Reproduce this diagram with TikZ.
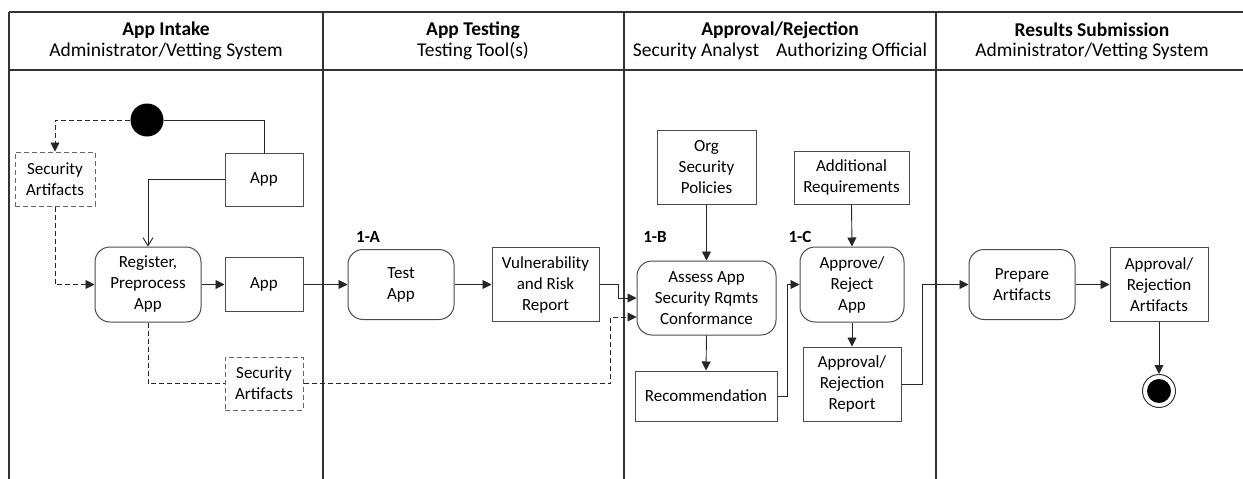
\documentclass[tikz,border=0pt]{standalone}
\usepackage{fontspec}
\setmainfont{Carlito}
\usetikzlibrary{arrows.meta}
\begin{document}
\begin{tikzpicture}[x=1pt,y=-1pt,
  every node/.style={font=\fontsize{17}{21}\selectfont, inner sep=0pt, align=center},
  lane/.style={line width=1.2pt, draw=black!80},
  obj/.style={draw=black!70, line width=1pt, rectangle},
  dobj/.style={draw=black!60, line width=1pt, dashed, dash pattern=on 5pt off 3pt, rectangle},
  act/.style={draw=black!70, line width=1pt, rectangle, rounded corners=15pt},
  flow/.style={line width=0.9pt, draw=black!85, -{Triangle[length=9pt,width=9pt]}},
  plain/.style={line width=0.9pt, draw=black!85},
  dflow/.style={line width=0.9pt, draw=black!85, dash pattern=on 5pt off 3pt, -{Triangle[length=9pt,width=9pt]}},
  dplain/.style={line width=0.9pt, draw=black!85, dash pattern=on 5pt off 3pt},
  step label/.style={font=\fontsize{17}{21}\selectfont\bfseries},
  head/.style={font=\fontsize{19.5}{21}\selectfont}
]
\useasboundingbox (0,0) rectangle (1243,479);
% lanes
\draw[lane] (9,12) -- (1243,12);
\draw[lane] (9,70) -- (1243,70);
\draw[lane] (9,12) -- (9,479);
\draw[lane] (323,12) -- (323,479);
\draw[lane] (624,12) -- (624,479);
\draw[lane] (936,12) -- (936,479);
% headers
\node[head] (h1a) at (166,30) {\bfseries App Intake};
\node[head] (h1b) at (166,51) {Administrator/Vetting System};
\node[head] (h2a) at (473,30) {\bfseries App Testing};
\node[head] (h2b) at (473,51) {Testing Tool(s)};
\node[head] (h3a) at (780,30) {\bfseries Approval/Rejection};
\node[head] (h3b) at (780,51) {Security Analyst\hspace{17pt}Authorizing Official};
\node[head] (h4a) at (1092,30) {\bfseries Results Submission};
\node[head] (h4b) at (1092,51) {Administrator/Vetting System};
% nodes
\node[circle, fill=black, minimum size=33pt] (start) at (147,120) {};
\node[dobj, minimum width=80pt, minimum height=54pt] (sa1) at (55,179) {Security\\Artifacts};
\node[obj, minimum width=78pt, minimum height=53pt] (app1) at (264,179.5) {App};
\node[act, minimum width=106pt, minimum height=75pt] (reg) at (148,284.5) {Register,\\Preprocess\\App};
\node[obj, minimum width=78pt, minimum height=54pt] (app2) at (264,284.5) {App};
\node[act, minimum width=106pt, minimum height=70pt] (test) at (401,284.5) {Test\\App};
\node[obj, minimum width=107pt, minimum height=74pt] (vuln) at (545.5,284.5) {Vulnerability\\and Risk\\Report};
\node[dobj, minimum width=78pt, minimum height=53pt] (sa2) at (264,383.5) {Security\\Artifacts};
\node[obj, minimum width=99pt, minimum height=74pt] (org) at (706.5,167) {Org\\Security\\Policies};
\node[act, minimum width=139pt, minimum height=74pt] (assess) at (706.5,298) {Assess App\\Security Rqmts\\Conformance};
\node[obj, minimum width=142pt, minimum height=50pt] (rec) at (706,396) {Recommendation};
\node[obj, minimum width=115pt, minimum height=53pt] (addreq) at (851.5,177.5) {Additional\\Requirements};
\node[act, minimum width=104pt, minimum height=75pt] (approve) at (852,284.5) {Approve/\\Reject\\App};
\node[obj, minimum width=98pt, minimum height=74pt] (report) at (852,384) {Approval/\\Rejection\\Report};
\node[act, minimum width=106pt, minimum height=70pt] (prep) at (1022,284.5) {Prepare\\Artifacts};
\node[obj, minimum width=98pt, minimum height=74pt] (artif) at (1159,284.5) {Approval/\\Rejection\\Artifacts};
\node[circle, draw=black!80, line width=1pt, minimum size=33pt] (end) at (1159,391) {};
\node[circle, fill=black, minimum size=24pt] (endin) at (1159,391) {};
% step labels
\node[step label] (l1a) at (368,237) {1-A};
\node[step label] (l1b) at (655,237) {1-B};
\node[step label] (l1c) at (800,237) {1-C};
% connectors
\draw[dflow] (start.west) -| (sa1.north);
\draw[plain] (start.east) -| (app1.north);
\draw[plain, -{Straight Barb[length=8pt,width=10pt]}] (app1.west) -| (reg.north);
\draw[dflow] (sa1.south) |- (reg.west);
\draw[flow] (reg.east) -- (app2.west);
\draw[flow] (app2.east) -- (test.west);
\draw[flow] (test.east) -- (vuln.west);
\draw[flow] (vuln.east) -- ++(19,0) |- (assess.west);
\draw[dplain] (reg.south) |- (sa2.west);
\draw[dflow] (sa2.east) -| ([xshift=-26pt,yshift=-19pt]assess.west) -- ([yshift=-19pt]assess.west);
\draw[flow] (org.south) -- (assess.north);
\draw[flow] (assess.south) -- (rec.north);
\draw[flow] (rec.east) -- ++(10,0) |- (approve.west);
\draw[flow] (addreq.south) -- (approve.north);
\draw[flow] (approve.south) -- (report.north);
\draw[flow] (report.east) -- ++(21,0) |- (prep.west);
\draw[flow] (prep.east) -- (artif.west);
\draw[flow] (artif.south) -- (end.north);
\end{tikzpicture}
\end{document}
